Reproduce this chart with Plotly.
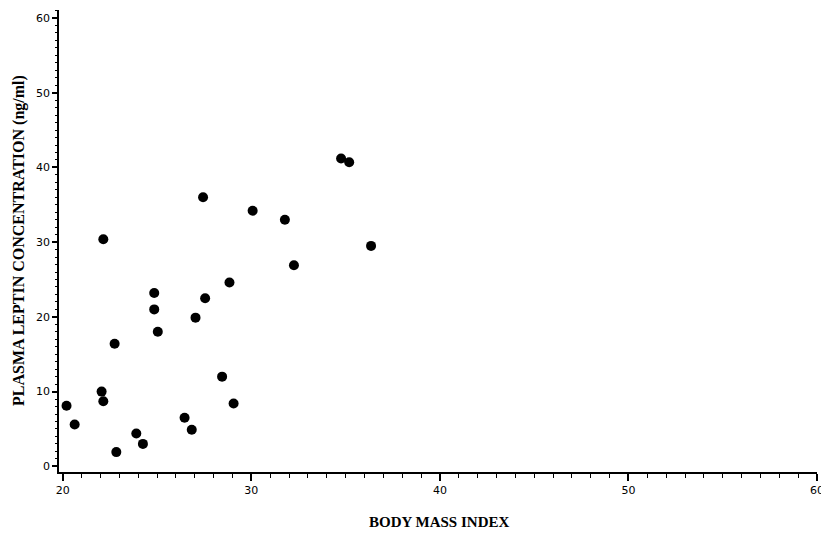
import plotly.graph_objects as go

bmi = [20.2, 20.63, 22.06, 22.15, 22.84, 23.9, 24.25, 26.46, 26.84, 29.06, 28.45,
       22.15, 24.85, 24.85, 25.04, 22.75, 27.55, 27.04, 28.84,
       34.76, 35.19, 27.44, 30.07, 31.78, 36.35, 32.26]
leptin = [8.1, 5.6, 10.0, 8.7, 1.9, 4.4, 3.0, 6.5, 4.9, 8.4, 12.0,
          30.4, 23.2, 21.0, 18.0, 16.4, 22.5, 19.9, 24.6,
          41.2, 40.7, 36.0, 34.2, 33.0, 29.5, 26.9]

x_ticks = [20, 30, 40, 50, 60]
y_ticks = [0, 10, 20, 30, 40, 50, 60]
x_title = "BODY MASS INDEX"
y_title = "PLASMA LEPTIN CONCENTRATION (ng/ml)"

fig = go.Figure()
fig.add_trace(go.Scatter(
    x=bmi, y=leptin, mode="markers",
    marker=dict(color="black", size=10, line=dict(width=0)),
    showlegend=False,
))

tickfont = dict(family="DejaVu Sans", size=11, color="black")

fig.update_layout(
    width=821, height=533,
    margin=dict(l=59, r=4, t=10, b=61, autoexpand=False),
    paper_bgcolor="white", plot_bgcolor="white",
    xaxis=dict(
        range=[19.8, 60.0], tickvals=x_ticks, ticktext=[str(v) for v in x_ticks],
        showgrid=False, zeroline=False, showline=True, linecolor="black", linewidth=1.5,
        ticks="outside", ticklen=7, tickwidth=1.5, tickcolor="black",
        minor=dict(dtick=1, ticks="outside", ticklen=4, tickwidth=1, tickcolor="black", showgrid=False),
        tickfont=tickfont, automargin=False, ticklabeloverflow="allow",
    ),
    yaxis=dict(
        range=[-0.76, 61.07], tickvals=y_ticks, ticktext=[str(v) for v in y_ticks],
        showgrid=False, zeroline=False, showline=True, linecolor="black", linewidth=1.5,
        ticks="outside", ticklen=5, tickwidth=1.5, tickcolor="black",
        minor=dict(dtick=1, ticks="outside", ticklen=2, tickwidth=1, tickcolor="black", showgrid=False),
        tickfont=tickfont, automargin=False,
    ),
    annotations=[
        dict(text="<b>" + x_title + "</b>", xref="paper", yref="paper",
             x=0.501, y=0, yshift=-50, xanchor="center", yanchor="middle",
             showarrow=False, font=dict(family="Liberation Serif", size=15, color="black")),
        dict(text="<b>" + y_title + "</b>", xref="paper", yref="paper",
             x=0, y=0.5, xshift=-40, xanchor="center", yanchor="middle",
             textangle=-90, showarrow=False,
             font=dict(family="Liberation Serif", size=16, color="black")),
    ],
)

fig.write_html("out.html", config={"displayModeBar": False},
               post_script="document.body.style.margin='0';")
